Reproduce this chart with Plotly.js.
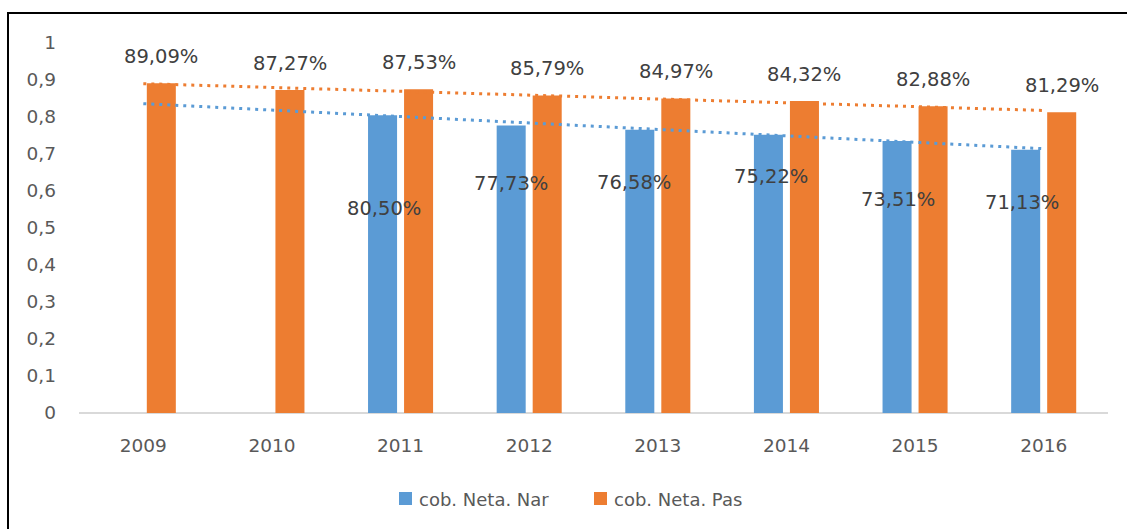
<!DOCTYPE html>
<html>
<head>
<meta charset="utf-8">
<script src="https://cdn.plot.ly/plotly-3.0.1.min.js"></script>
<style>
  html, body { margin: 0; padding: 0; background: #fff; overflow: hidden; }
  #chart { width: 1127px; height: 529px; position: absolute; left: 0; top: 0; }
  #frame { position: absolute; left: 7px; top: 12px; width: 1300px; height: 700px;
           border-left: 2px solid #000; border-top: 2px solid #000; pointer-events: none; }
</style>
</head>
<body>
<div id="chart"></div>
<div id="frame"></div>
<script>
// ---- data ----
const years = ['2009', '2010', '2011', '2012', '2013', '2014', '2015', '2016'];
const cobNetaNar = [null, null, 0.8050, 0.7773, 0.7658, 0.7522, 0.7351, 0.7113];
const cobNetaPas = [0.8909, 0.8727, 0.8753, 0.8579, 0.8497, 0.8432, 0.8288, 0.8129];
const seriesNames = ['cob. Neta. Nar', 'cob. Neta. Pas'];

// ---- styling / label placement (not data) ----
const BLUE = '#5B9BD5';
const ORANGE = '#ED7D31';
const FONT = 'DejaVu Sans, Liberation Sans, Arial, sans-serif';
const TEXT = '#595959';
const LABEL = '#404040';
// manually placed labels of the blue series (axis y of label centre, pixel x offset)
const narLabelY = [null, null, 0.554, 0.619, 0.624, 0.638, 0.576, 0.569];
const narLabelDx = [0, 0, -17, -18, -24, -15, -17, -22];

const M = { l: 79, r: 19, t: 43, b: 116 };
const W = 1127 - M.l - M.r, H = 529 - M.t - M.b;
const px2x = px => (px - M.l) / W;
const py2y = py => (M.t + H - py) / H;

const idx = years.map((_, i) => i);

// linear trend (least squares over available points, drawn over all categories)
function trend(vals) {
  const pts = vals.map((v, i) => [i + 1, v]).filter(p => p[1] != null);
  const n = pts.length;
  const mx = pts.reduce((s, p) => s + p[0], 0) / n;
  const my = pts.reduce((s, p) => s + p[1], 0) / n;
  let sxy = 0, sxx = 0;
  pts.forEach(p => { sxy += (p[0] - mx) * (p[1] - my); sxx += (p[0] - mx) * (p[0] - mx); });
  const b = sxy / sxx, a = my - b * mx;
  return vals.map((v, i) => a + b * (i + 1));
}
const fmt = v => (v * 100).toFixed(2).replace('.', ',') + '%';

const traces = [
  { type: 'bar', name: seriesNames[0], x: idx, y: cobNetaNar, marker: { color: BLUE } },
  { type: 'bar', name: seriesNames[1], x: idx, y: cobNetaPas, marker: { color: ORANGE } },
  { type: 'scatter', mode: 'lines', x: idx, y: trend(cobNetaPas),
    line: { color: ORANGE, width: 3, dash: '3px,5px' } },
  { type: 'scatter', mode: 'lines', x: idx, y: trend(cobNetaNar),
    line: { color: BLUE, width: 3, dash: '3px,5px' } }
];

const annotations = [];
idx.forEach(i => {
  if (cobNetaPas[i] != null) {
    annotations.push({ x: i, y: cobNetaPas[i], xref: 'x', yref: 'y', text: fmt(cobNetaPas[i]),
      showarrow: false, xshift: 18, yshift: 27, yanchor: 'middle', xanchor: 'center',
      font: { family: FONT, size: 19.5, color: LABEL } });
  }
  if (cobNetaNar[i] != null) {
    annotations.push({ x: i, y: narLabelY[i], xref: 'x', yref: 'y', text: fmt(cobNetaNar[i]),
      showarrow: false, xshift: narLabelDx[i], yanchor: 'middle', xanchor: 'center',
      font: { family: FONT, size: 19.5, color: LABEL } });
  }
});

// legend (drawn by hand so the swatches match the reference size)
const legendItems = [
  { name: seriesNames[0], color: BLUE, sx: 399 },
  { name: seriesNames[1], color: ORANGE, sx: 594 }
];
const shapes = [];
legendItems.forEach(it => {
  shapes.push({ type: 'rect', xref: 'paper', yref: 'paper',
    x0: px2x(it.sx), x1: px2x(it.sx + 13), y0: py2y(505), y1: py2y(492),
    fillcolor: it.color, line: { width: 0 } });
  annotations.push({ xref: 'paper', yref: 'paper', x: px2x(it.sx + 18), y: py2y(499),
    xanchor: 'left', yanchor: 'middle', showarrow: false, text: it.name,
    font: { family: FONT, size: 18, color: TEXT } });
});

const layout = {
  width: 1127, height: 529,
  margin: { l: M.l, r: M.r, t: M.t, b: M.b, pad: 0 },
  paper_bgcolor: '#fff', plot_bgcolor: '#fff',
  separators: ', ',
  barmode: 'group', bargap: 0.44, bargroupgap: 0.194,
  font: { family: FONT, size: 18.5, color: TEXT },
  showlegend: false,
  xaxis: { range: [-0.5, 7.5], tickvals: idx, ticktext: years, showgrid: false,
    zeroline: false, showline: false, ticks: '', ticklabelstandoff: 19,
    tickfont: { family: FONT, size: 18.5, color: TEXT } },
  yaxis: { range: [0, 1], dtick: 0.1, tick0: 0, showgrid: false, zeroline: true,
    zerolinecolor: '#D9D9D9', zerolinewidth: 2,
    showline: false, ticks: '', ticklabelstandoff: 22,
    tickfont: { family: FONT, size: 18.5, color: TEXT } },
  annotations: annotations,
  shapes: shapes
};

Plotly.newPlot('chart', traces, layout, { staticPlot: true, displayModeBar: false });
</script>
</body>
</html>
